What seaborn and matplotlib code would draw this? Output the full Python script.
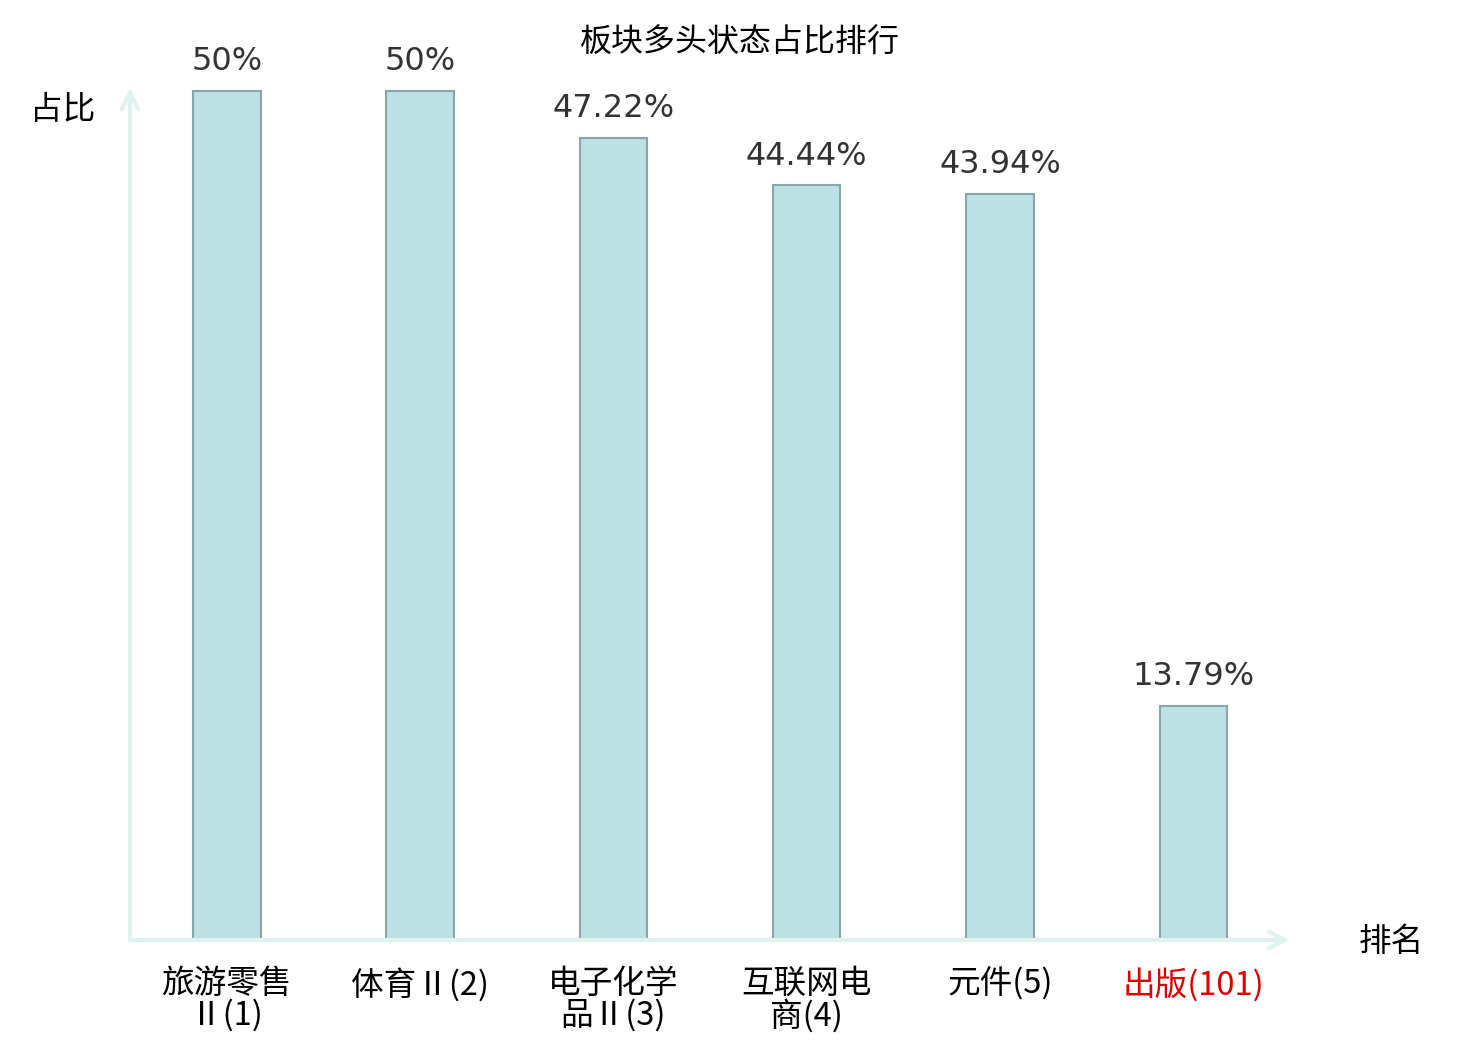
import seaborn as sns
import matplotlib.pyplot as plt
import pandas as pd

categorias = ['旅游零售\nⅡ(1)', '体育Ⅱ(2)', '电子化学\n品Ⅱ(3)', '互联网电\n商(4)', '元件(5)', '出版(101)']
valores = [50, 50, 47.22, 44.44, 43.94, 13.79]
cores_rotulo = ['#000000', '#000000', '#000000', '#000000', '#000000', '#e00000']

sns.set_style('white')
plt.rcParams['font.family'] = ['Noto Sans CJK SC', 'DejaVu Sans']

df = pd.DataFrame({'板块': categorias, '占比': valores})

fig = plt.figure(figsize=(14.8, 10.4), dpi=100)
ax = fig.add_axes([130 / 1480, 100 / 1040, 1160 / 1480, 852 / 1040])

sns.barplot(data=df, x='板块', y='占比', ax=ax, width=0.35, color='#bce0e3',
            saturation=1, edgecolor='#8aa6a8', linewidth=1.5)

ax.set_xlim(-0.5, 5.5)
ax.set_ylim(0, 50.18)
for s in ax.spines.values():
    s.set_visible(False)
ax.set_yticks([])
ax.set_xlabel('')
ax.set_ylabel('')
ax.tick_params(axis='x', length=0, pad=20, labelsize=23.5)
for lbl, cor in zip(ax.get_xticklabels(), cores_rotulo):
    lbl.set_color(cor)
    lbl.set_linespacing(0.95)
    lbl.set_verticalalignment('top')

# rótulos de valor
for i, v in enumerate(valores):
    ax.annotate(f'{v:g}%', (i, v), xytext=(0, 10), textcoords='offset points',
                ha='center', va='bottom', fontsize=23, color='#333333',
                family='DejaVu Sans')

# eixos com seta
cor_eixo = '#dff2f0'
ax.annotate('', xy=(1.0, 0), xytext=(0, 0), xycoords='axes fraction',
            arrowprops=dict(arrowstyle='->', color=cor_eixo, lw=3, mutation_scale=30,
                            shrinkA=0, shrinkB=0), annotation_clip=False)
ax.annotate('', xy=(0, 1.0), xytext=(0, 0), xycoords='axes fraction',
            arrowprops=dict(arrowstyle='->', color=cor_eixo, lw=3, mutation_scale=30,
                            shrinkA=0, shrinkB=0), annotation_clip=False)

fig.text(63 / 1480, 1 - 110 / 1040, '占比', ha='center', va='center', fontsize=23.5, color='black')
fig.text(1391 / 1480, 1 - 942 / 1040, '排名', ha='center', va='center', fontsize=23.5, color='black')
fig.text(0.5, 1 - 43 / 1040, '板块多头状态占比排行', ha='center', va='center', fontsize=23, color='black')

fig.savefig('out.png', dpi=100)
